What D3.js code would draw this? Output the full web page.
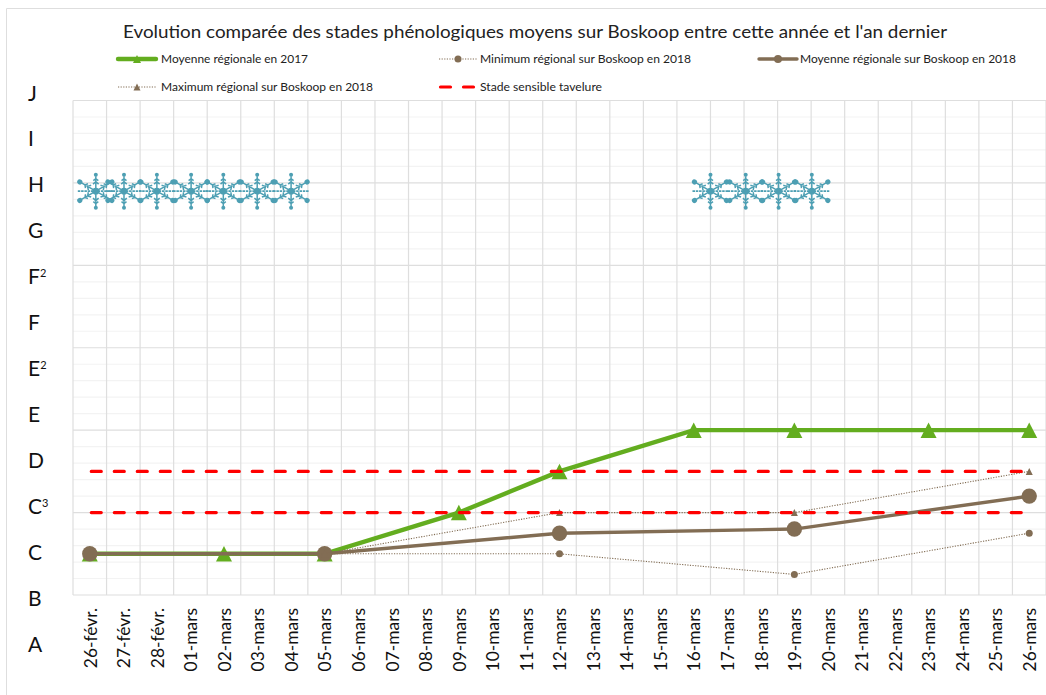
<!DOCTYPE html>
<html lang="fr">
<head>
<meta charset="utf-8">
<title>Stades phénologiques Boskoop</title>
<script src="https://cdn.jsdelivr.net/npm/d3@7"></script>
<style>
  html, body { margin: 0; background: #fff; overflow: hidden; }
  svg { display: block; font-family: Lato, "Open Sans", sans-serif; fill: #000; }
</style>
</head>
<body>
<div id="chart"></div>
<script>
const dates = ['26-févr.', '27-févr.', '28-févr.', '01-mars', '02-mars', '03-mars', '04-mars', '05-mars',
    '06-mars', '07-mars', '08-mars', '09-mars', '10-mars', '11-mars', '12-mars', '13-mars', '14-mars',
    '15-mars', '16-mars', '17-mars', '18-mars', '19-mars', '20-mars', '21-mars', '22-mars', '23-mars',
    '24-mars', '25-mars', '26-mars'];
const stades = ['A', 'B', 'C', 'C3', 'D', 'E', 'E2', 'F', 'F2', 'G', 'H', 'I', 'J'];

// [date, value] on the hidden 0-30 axis of the chart
const moyenne2017 = [['26-févr.', 2.5], ['02-mars', 2.5], ['05-mars', 2.5], ['09-mars', 5], ['12-mars', 7.5],
    ['16-mars', 10], ['19-mars', 10], ['23-mars', 10], ['26-mars', 10]];
const minimum2018 = [['26-févr.', 2.5], ['05-mars', 2.5], ['12-mars', 2.5], ['19-mars', 1.25], ['26-mars', 3.75]];
const moyenne2018 = [['26-févr.', 2.5], ['05-mars', 2.5], ['12-mars', 3.75], ['19-mars', 4], ['26-mars', 6]];
const maximum2018 = [['26-févr.', 2.5], ['05-mars', 2.5], ['12-mars', 5], ['19-mars', 5], ['26-mars', 7.5]];
const seuilsTavelure = [5, 7.5];

// frost marks, in days since 26-févr.
const gelDebut = [0.18, 1.02, 2, 3.02, 3.98, 4.99, 6];
const gelFin = [18.5, 19.55, 20.53, 21.52];
const gelNiveau = 24.5;

const width = 1046, height = 695;
const plot = { left: 73, right: 1046, top: 100.5, bottom: 595 };

const green = '#63ad1f', brown = '#826d54', red = '#ff0000';
const grey = '#dedede', lightGrey = '#f3f3f3';

const svg = d3.select('#chart').append('svg')
    .attr('width', width)
    .attr('height', height);

const x = d3.scalePoint().domain(dates).range([plot.left, plot.right]).padding(0.5);
const xDays = d3.scaleLinear().domain([0, dates.length - 1]).range([x(dates[0]), x(dates[dates.length - 1])]);
const y = d3.scaleLinear().domain([0, 30]).range([plot.bottom, plot.top]);
// the stage letters are spread independently of the grid, as in the original
const yStade = d3.scalePoint().domain(stades).range([644, 93]);

// outer frame, only top and left are visible
svg.append('path')
    .attr('d', `M6.5,${height}V8.5H${width}`)
    .attr('fill', 'none')
    .attr('stroke', grey)
    .attr('stroke-width', 1);

// grid
svg.append('g').selectAll('line')
    .data(d3.range(0, 31).filter(d => d % 5 !== 0))
    .join('line')
    .attr('x1', plot.left).attr('x2', plot.right)
    .attr('y1', d => y(d)).attr('y2', d => y(d))
    .attr('stroke', lightGrey)
    .attr('stroke-width', 1.2);

svg.append('g').selectAll('line')
    .data(d3.range(0, dates.length + 1))
    .join('line')
    .attr('x1', d => x(dates[0]) - x.step() / 2 + d * x.step())
    .attr('x2', d => x(dates[0]) - x.step() / 2 + d * x.step())
    .attr('y1', plot.top).attr('y2', plot.bottom)
    .attr('stroke', grey)
    .attr('stroke-width', 1.2);

svg.append('g').selectAll('line')
    .data(d3.range(0, 31, 5))
    .join('line')
    .attr('x1', plot.left).attr('x2', plot.right)
    .attr('y1', d => y(d)).attr('y2', d => y(d))
    .attr('stroke', grey)
    .attr('stroke-width', 1.2);

// x axis labels
const xAxis = svg.append('g')
    .attr('transform', `translate(0,${plot.bottom})`)
    .call(d3.axisBottom(x).tickSize(0));
xAxis.select('.domain').remove();
xAxis.selectAll('text')
    .attr('transform', 'rotate(-90)')
    .attr('x', -13)
    .attr('y', 0)
    .attr('dy', '0.36em')
    .style('text-anchor', 'end')
    .style('font-family', 'Lato')
    .style('font-size', '17.4px')
    .style('fill', '#111');

// stage letters, the digit is a small superscript
const stadeText = svg.append('g').selectAll('text')
    .data(stades)
    .join('text')
    .attr('x', 28)
    .attr('y', d => yStade(d) + 7.5)
    .style('font-size', '21px')
    .style('fill', '#111');
stadeText.append('tspan').text(d => d[0]);
stadeText.append('tspan')
    .text(d => d[1] || '')
    .attr('dy', -7)
    .style('font-size', '11px');

// snowflakes
function drawFlake(g) {
    const teal = '#4d9fb3';
    const armAngles = [-90, -30, 30, 90, 150, 210];
    g.append('path')
        .attr('d', 'M-18,0H18')
        .attr('stroke', teal).attr('stroke-width', 1.8)
        .attr('stroke-dasharray', '2.5 0.8');
    armAngles.forEach(angle => {
        const arm = g.append('g').attr('transform', `rotate(${angle})`);
        const vertical = Math.abs(angle) === 90;
        const len = vertical ? 15 : 17;
        arm.append('path')
            .attr('d', `M0,0H${len}M7,-2.8L9.5,0L7,2.8M10.5,-2.5L12.5,0L10.5,2.5`)
            .attr('fill', 'none')
            .attr('stroke', teal).attr('stroke-width', 1.5);
        arm.append('circle')
            .attr('cx', len + 1.5).attr('r', vertical ? 2 : 2.6)
            .attr('fill', teal);
    });
    g.append('circle').attr('r', 3.4).attr('fill', teal);
}
svg.append('g').selectAll('g')
    .data(gelDebut.concat(gelFin))
    .join('g')
    .attr('transform', d => `translate(${xDays(d)},${y(gelNiveau)})`)
    .each(function() { drawFlake(d3.select(this)); });

// series
const line = d3.line().x(d => x(d[0])).y(d => y(d[1]));
const triangle = (w, h) => `M0,${-h / 2}L${w / 2},${h / 2}H${-w / 2}Z`;

function drawLine(data, stroke, strokeWidth, dash) {
    svg.append('path')
        .datum(data)
        .attr('d', line)
        .attr('fill', 'none')
        .attr('stroke', stroke)
        .attr('stroke-width', strokeWidth)
        .attr('stroke-dasharray', dash);
}
function drawTriangles(data, color, w, h) {
    svg.append('g').selectAll('path')
        .data(data)
        .join('path')
        .attr('d', triangle(w, h))
        .attr('transform', d => `translate(${x(d[0])},${y(d[1])})`)
        .attr('fill', color);
}
function drawCircles(data, color, r) {
    svg.append('g').selectAll('circle')
        .data(data)
        .join('circle')
        .attr('cx', d => x(d[0]))
        .attr('cy', d => y(d[1]))
        .attr('r', r)
        .attr('fill', color);
}

drawLine(moyenne2017, green, 4.4);
drawTriangles(moyenne2017, green, 16, 15.5);
drawLine(minimum2018, brown, 1.1, '1.2 1.4');
drawCircles(minimum2018, brown, 3.5);
drawLine(moyenne2018, brown, 3.4);
drawCircles(moyenne2018, brown, 7.7);
drawLine(maximum2018, brown, 1.1, '1.2 1.4');
drawTriangles(maximum2018, brown, 7, 7);

// tavelure thresholds
svg.append('g').selectAll('line')
    .data(seuilsTavelure)
    .join('line')
    .attr('x1', x(dates[0]) + 1.5)
    .attr('x2', x(dates[dates.length - 1]))
    .attr('y1', d => y(d)).attr('y2', d => y(d))
    .attr('stroke', red)
    .attr('stroke-width', 3.2)
    .attr('stroke-linecap', 'round')
    .attr('stroke-dasharray', '10 13');

// title
svg.append('text')
    .attr('x', 535)
    .attr('y', 38)
    .attr('text-anchor', 'middle')
    .attr('textLength', 824)
    .attr('lengthAdjust', 'spacingAndGlyphs')
    .style('font-size', '18px')
    .style('fill', '#222')
    .text("Evolution comparée des stades phénologiques moyens sur Boskoop entre cette année et l'an dernier");

// legend
const legendEntries = [
    { label: 'Moyenne régionale en 2017', x: 118, y: 59, w: 147, kind: 'green', textX: 43 },
    { label: 'Minimum régional sur Boskoop en 2018', x: 439, y: 59, w: 211, kind: 'min', textX: 41 },
    { label: 'Moyenne régionale sur Boskoop en 2018', x: 759, y: 59, w: 216, kind: 'mean', textX: 41 },
    { label: 'Maximum régional sur Boskoop en 2018', x: 118, y: 87, w: 212, kind: 'max', textX: 43 },
    { label: 'Stade sensible tavelure', x: 439, y: 87, w: 122, kind: 'red', textX: 41 }
];
const legendStyle = {
    green: { stroke: green, sw: 4.4, cap: 'round' },
    min: { stroke: brown, sw: 1.1, dash: '1.2 1.4' },
    mean: { stroke: brown, sw: 3.4, cap: 'round' },
    max: { stroke: brown, sw: 1.1, dash: '1.2 1.4' },
    red: { stroke: red, sw: 3.2, dash: '10 13', cap: 'round' }
};
legendEntries.forEach(entry => {
    const g = svg.append('g').attr('transform', `translate(${entry.x},${entry.y})`);
    const st = legendStyle[entry.kind];
    g.append('line')
        .attr('x1', entry.kind === 'red' ? 1.5 : 0).attr('x2', 38)
        .attr('stroke', st.stroke)
        .attr('stroke-width', st.sw)
        .attr('stroke-linecap', st.cap || 'butt')
        .attr('stroke-dasharray', st.dash || null);
    if (entry.kind === 'green') g.append('path').attr('d', triangle(8, 8)).attr('transform', 'translate(19,0)').attr('fill', green);
    if (entry.kind === 'max') g.append('path').attr('d', triangle(7, 7)).attr('transform', 'translate(19,0)').attr('fill', brown);
    if (entry.kind === 'min') g.append('circle').attr('cx', 19).attr('r', 3.5).attr('fill', brown);
    if (entry.kind === 'mean') g.append('circle').attr('cx', 19).attr('r', 4).attr('fill', brown);
    g.append('text')
        .attr('x', entry.textX)
        .attr('y', 4)
        .attr('textLength', entry.w)
        .attr('lengthAdjust', 'spacingAndGlyphs')
        .style('font-size', '11.5px')
        .style('fill', '#222')
        .text(entry.label);
});
</script>
</body>
</html>
